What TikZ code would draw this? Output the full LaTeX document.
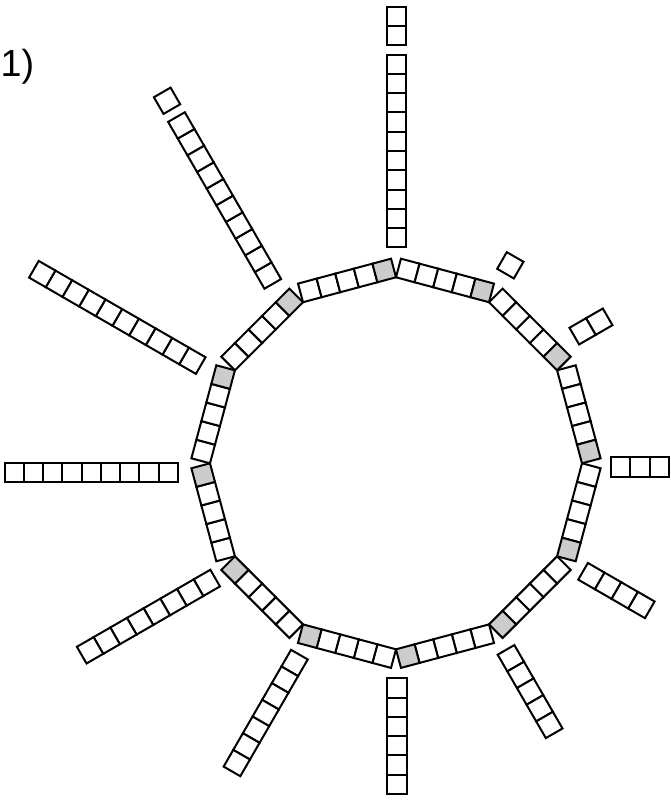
\documentclass[tikz,border=0pt]{standalone}
\usepackage{fontspec}
\setmainfont{Liberation Sans}
\begin{document}
\begin{tikzpicture}[x=1pt, y=1pt,
	cell/.style={draw=black, line width=2pt, fill=white},
	shadedcell/.style={cell, fill=black!20}]
	\def\side{19.26}
	\def\ringr{186}
	\useasboundingbox (-396,-337.7) rectangle (274,463.3);
	\node[anchor=base west, inner sep=0pt, font=\fontsize{37.7}{40}\selectfont] (tag) at (-395.5,386.3) {1)};
	% ring: twelve sides of five cells, the last one shaded
	\foreach \t in {90,60,...,-240} {
		\begin{scope}[shift={(\t:\ringr)}, rotate=\t-105]
			\foreach \i in {0,...,3}
				\draw[cell] (\i*\side,0) rectangle ++(\side,\side);
			\draw[shadedcell] (4*\side,0) rectangle ++(\side,\side);
		\end{scope}
	}
	% spokes: angle / cells / sideways shift / inner radius
	\foreach \a/\n/\d/\r in {90/12/-0.8/216, 60/1/0/219, 30/2/21/218, 0/3/-3.7/215,
		-30/4/0/216, -60/5/2/216.6, -90/6/1/215, -120/7/12/214,
		-150/8/9/214, 180/9/9/218, 150/10/13/218, 120/11/17/217} {
		\begin{scope}[rotate=\a]
			\foreach \i in {1,...,\n} {
				\pgfmathsetmacro\px{\r+(\i-1)*\side+(\i>10)*9.2}
				\draw[cell] (\px,\d-\side/2) rectangle ++(\side,\side);
			}
		\end{scope}
	}
\end{tikzpicture}
\end{document}
